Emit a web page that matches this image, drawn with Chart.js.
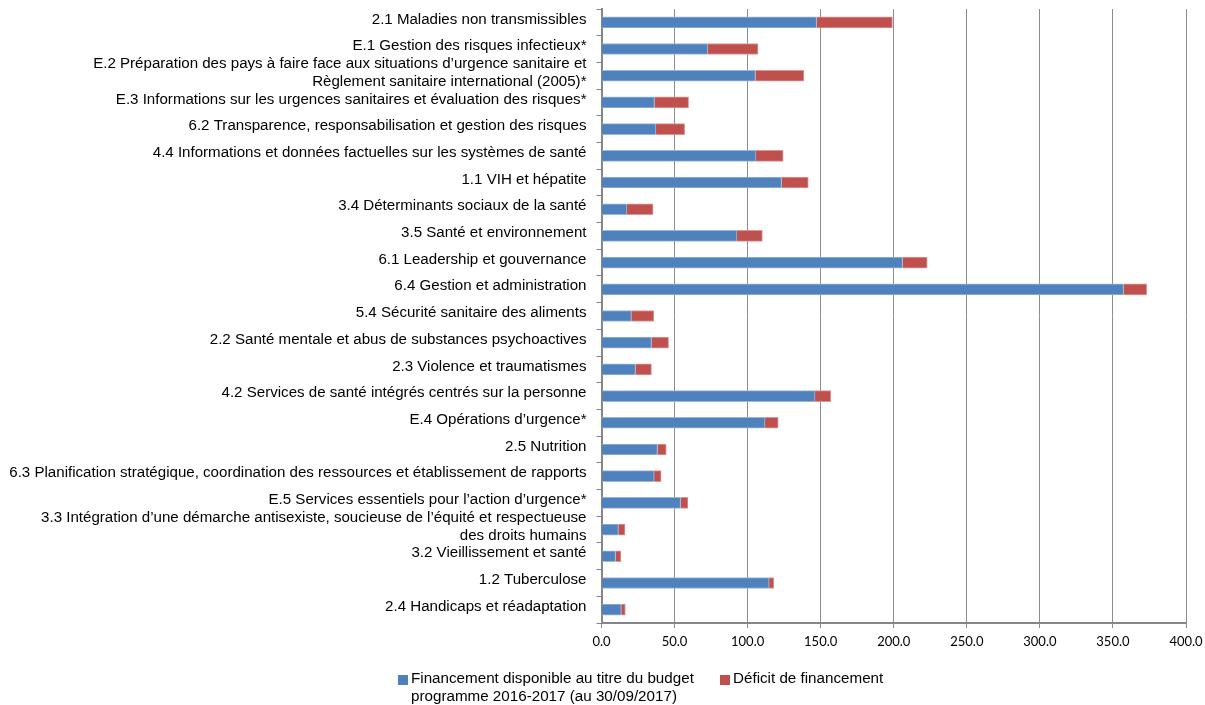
<!DOCTYPE html>
<html>
<head>
<meta charset="utf-8">
<script src="https://cdn.jsdelivr.net/npm/chart.js@4"></script>
<style>
  body { margin: 0; background: #fff; }
  #wrap { position: relative; width: 1205px; height: 705px; }
  #legend { position: absolute; left: 0; top: 0; width: 1205px; font-family: "Liberation Sans", Arial, sans-serif; font-size: 15.2px; color: #000; }
  .item { position: absolute; line-height: 18px; white-space: nowrap; }
  .box { position: absolute; width: 10px; height: 10px; }
</style>
</head>
<body>
<div id="wrap">
  <canvas id="myChart" width="1205" height="705"></canvas>
  <div id="legend"></div>
</div>
<script>
var categories = [
  "2.1 Maladies non transmissibles",
  "E.1 Gestion des risques infectieux*",
  ["E.2 Préparation des pays à faire face aux situations d\u2019urgence sanitaire et", "Règlement sanitaire international (2005)*"],
  "E.3 Informations sur les urgences sanitaires et évaluation des risques*",
  "6.2 Transparence, responsabilisation et gestion des risques",
  "4.4 Informations et données factuelles sur les systèmes de santé",
  "1.1 VIH et hépatite",
  "3.4 Déterminants sociaux de la santé",
  "3.5 Santé et environnement",
  "6.1 Leadership et gouvernance",
  "6.4 Gestion et administration",
  "5.4 Sécurité sanitaire des aliments",
  "2.2 Santé mentale et abus de substances psychoactives",
  "2.3 Violence et traumatismes",
  "4.2 Services de santé intégrés centrés sur la personne",
  "E.4 Opérations d\u2019urgence*",
  "2.5 Nutrition",
  "6.3 Planification stratégique, coordination des ressources et établissement de rapports",
  "E.5 Services essentiels pour l\u2019action d\u2019urgence*",
  ["3.3 Intégration d\u2019une démarche antisexiste, soucieuse de l\u2019équité et respectueuse", "des droits humains"],
  "3.2 Vieillissement et santé",
  "1.2 Tuberculose",
  "2.4 Handicaps et réadaptation"
];

var available = [147.2, 72.7, 105.3, 36.2, 37.2, 105.7, 123.2, 17.4, 92.7, 206.0, 357.3, 20.4,
  34.2, 23.2, 146.1, 111.9, 38.3, 36.0, 54.1, 11.5, 9.6, 114.7, 13.5];
var deficit = [51.9, 34.4, 33.2, 23.4, 19.7, 18.6, 18.3, 17.9, 17.4, 16.9, 15.8, 15.4,
  11.7, 11.0, 10.8, 9.0, 6.0, 4.8, 5.1, 4.6, 3.7, 3.2, 2.8];

var seriesNames = [
  ["Financement disponible au titre du budget", "programme 2016-2017 (au 30/09/2017)"],
  ["Déficit de financement"]
];
var seriesColors = ["#4F81BD", "#C0504D"];
var seriesEdges = ["#9ab6da", "#dc9896"];

var xTicks = [0, 50, 100, 150, 200, 250, 300, 350, 400];

function build_legend() {
  var el = document.getElementById("legend");
  var spots = [[398, 669], [720, 669]];
  var html = "";
  for (var i = 0; i < seriesNames.length; i++) {
    html += '<div class="box" style="left:' + spots[i][0] + 'px;top:' + (spots[i][1] + 6) + 'px;background:' + seriesColors[i] + '"></div>';
    html += '<div class="item" style="left:' + (spots[i][0] + 13) + 'px;top:' + spots[i][1] + 'px">' + seriesNames[i].join("<br>") + '</div>';
  }
  el.innerHTML = html;
}

function disp_chart() {
  var ctx = document.getElementById("myChart").getContext("2d");
  var chart = new Chart(ctx, {
    type: "bar",
    data: {
      labels: categories,
      datasets: [
        {
          label: seriesNames[0].join(" "),
          backgroundColor: seriesColors[0],
          borderColor: seriesEdges[0],
          borderWidth: 1,
          data: available,
          barThickness: 11
        },
        {
          label: seriesNames[1].join(" "),
          backgroundColor: seriesColors[1],
          borderColor: seriesEdges[1],
          borderWidth: 1,
          data: deficit,
          barThickness: 11
        }
      ]
    },
    options: {
      responsive: false,
      animation: false,
      indexAxis: "y",
      layout: { padding: { top: 9, bottom: 42, left: 0, right: 19 } },
      plugins: { legend: { display: false }, tooltip: { enabled: false } },
      scales: {
        x: {
          stacked: true,
          min: 0,
          max: 400,
          afterBuildTicks: function(scale) {
            scale.ticks = xTicks.map(function(v) { return { value: v }; });
          },
          afterFit: function(scale) {
            scale.height = 40;
            scale.paddingLeft = 0;
            scale.paddingRight = 0;
          },
          ticks: {
            color: "#000",
            padding: 6,
            maxRotation: 0,
            font: { family: "Lato, sans-serif", size: 13 },
            callback: function(v) { return Number(v).toFixed(1); }
          },
          grid: { color: "#8c8c8c", lineWidth: 1, tickLength: 5 },
          border: { color: "#868686", width: 2 }
        },
        y: {
          stacked: true,
          afterFit: function(scale) {
            scale.width = 601.5;
            scale.paddingTop = 0;
            scale.paddingBottom = 0;
          },
          ticks: {
            color: "#000",
            padding: 10,
            labelOffset: -3,
            autoSkip: false,
            font: { family: "'Liberation Sans', Arial, sans-serif", size: 15.1, lineHeight: 1.19 }
          },
          grid: { drawOnChartArea: false, color: "#868686", tickLength: 5 },
          border: { color: "#868686", width: 2 }
        }
      }
    }
  });
}

build_legend();
disp_chart();
</script>
</body>
</html>
